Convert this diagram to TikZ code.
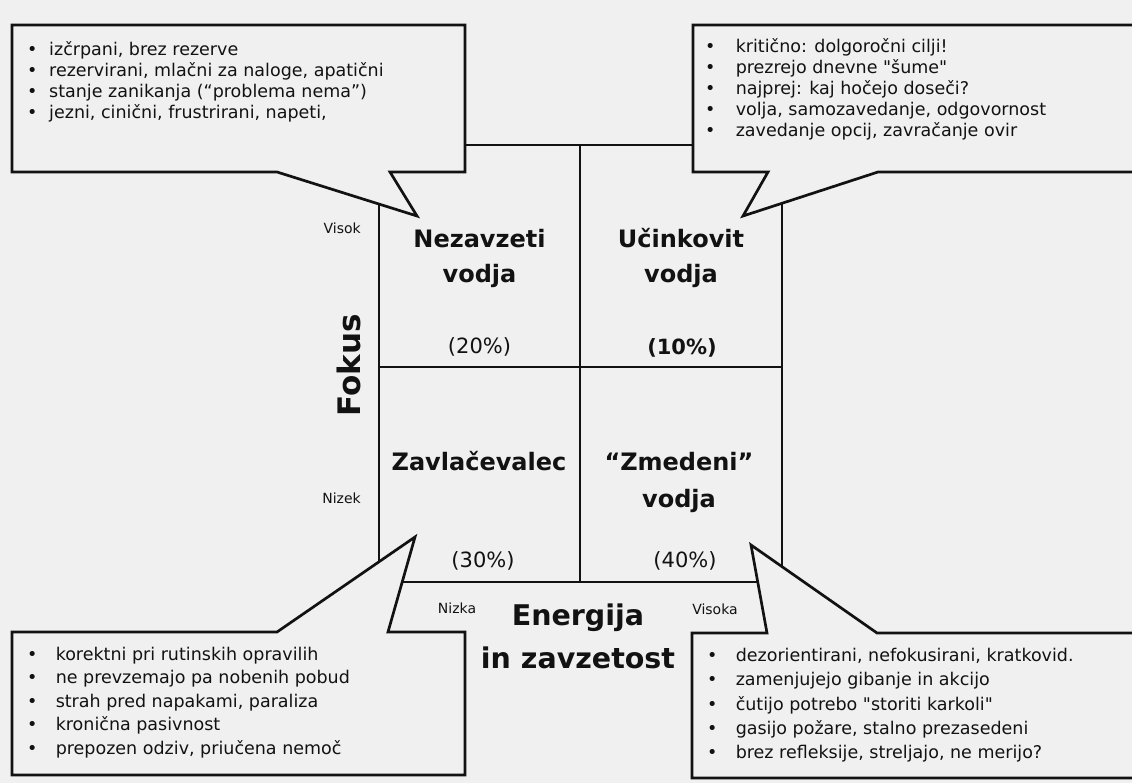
\documentclass[tikz,border=0pt]{standalone}
\usepackage{fontspec}
\setmainfont{DejaVu Sans}[Ligatures=TeXOff]
\definecolor{bgc}{RGB}{240,240,240}
\definecolor{ink}{RGB}{18,18,18}
\newcommand{\bul}[1][22pt]{\makebox[#1][l]{•}}
\tikzset{
  callout/.style={draw=ink, line width=2.7pt, fill=bgc, line join=miter},
  gridline/.style={draw=ink, line width=1.8pt},
  body/.style={font=\fontsize{17.5}{21}\selectfont, inner sep=0pt, anchor=base west, text=ink},
  title/.style={font=\bfseries\fontsize{24}{24}\selectfont, inner sep=0pt, anchor=base, text=ink},
  pct/.style={font=\fontsize{21}{21}\selectfont, inner sep=0pt, anchor=base, text=ink},
  pctb/.style={font=\bfseries\fontsize{21}{21}\selectfont, inner sep=0pt, anchor=base, text=ink},
  axis/.style={font=\bfseries\fontsize{28.5}{28.5}\selectfont, inner sep=0pt, anchor=base, text=ink},
  tiny/.style={font=\fontsize{14}{14}\selectfont, inner sep=0pt, text=ink},
}
\begin{document}
\begin{tikzpicture}[x=1pt,y=-1pt]
\useasboundingbox (0,0) rectangle (1132,783);
\fill[bgc] (0,0) rectangle (1132,783);
\clip (0,0) rectangle (1132,783);

% grid
\draw[gridline] (379,145) rectangle (782,582);
\draw[gridline] (580,145) -- (580,582);
\draw[gridline] (379,367) -- (782,367);

% callouts
\draw[callout] (12,25) -- (465,25) -- (465,172) -- (390,172) -- (417,216) -- (277,172) -- (12,172) -- cycle;
\draw[callout] (693,25) -- (1145,25) -- (1145,172) -- (878,172) -- (743,216) -- (768,172) -- (693,172) -- cycle;
\draw[callout] (12,632) -- (277,632) -- (415,537) -- (388,632) -- (465,632) -- (465,775) -- (12,775) -- cycle;
\draw[callout] (692,633) -- (767,633) -- (751,545) -- (877,633) -- (1145,633) -- (1145,778) -- (692,778) -- cycle;

% top-left text
\node[body] (tl1) at (27,56) {\bul izčrpani, brez rezerve};
\node[body] (tl2) at (27,77) {\bul rezervirani, mlačni za naloge, apatični};
\node[body] (tl3) at (27,98) {\bul stanje zanikanja (“problema nema”)};
\node[body] (tl4) at (27,119) {\bul jezni, cinični, frustrirani, napeti,};

% top-right text
\node[body] (tr1) at (705,53) {\bul[25pt] kritično: dolgoročni cilji!};
\node[body] (tr2) at (705,74) {\bul[25pt] prezrejo dnevne "šume"};
\node[body] (tr3) at (705,95) {\bul[25pt] najprej: kaj hočejo doseči?};
\node[body] (tr4) at (705,116) {\bul[25pt] volja, samozavedanje, odgovornost};
\node[body] (tr5) at (705,137) {\bul[25pt] zavedanje opcij, zavračanje ovir};

% bottom-left text
\node[body] (bl1) at (27,660) {\bul[23pt] korektni pri rutinskih opravilih};
\node[body] (bl2) at (27,683.5) {\bul[23pt] ne prevzemajo pa nobenih pobud};
\node[body] (bl3) at (27,707) {\bul[23pt] strah pred napakami, paraliza};
\node[body] (bl4) at (27,730.5) {\bul[23pt] kronična pasivnost};
\node[body] (bl5) at (27,754) {\bul[23pt] prepozen odziv, priučena nemoč};

% bottom-right text
\node[body] (br1) at (707,661) {\bul[23pt] dezorientirani, nefokusirani, kratkovid.};
\node[body] (br2) at (707,685.5) {\bul[23pt] zamenjujejo gibanje in akcijo};
\node[body] (br3) at (707,710) {\bul[23pt] čutijo potrebo "storiti karkoli"};
\node[body] (br4) at (707,734) {\bul[23pt] gasijo požare, stalno prezasedeni};
\node[body] (br5) at (707,758) {\bul[23pt] brez refleksije, streljajo, ne merijo?};

% quadrant titles
\node[title] (q1a) at (479.5,248) {Nezavzeti};
\node[title] (q1b) at (479.5,283) {vodja};
\node[pct]   (q1p) at (479.5,353) {(20\%)};
\node[title] (q2a) at (681,248) {Učinkovit};
\node[title] (q2b) at (681,283) {vodja};
\node[pctb]  (q2p) at (682,355) {(10\%)};
\node[title] (q3a) at (479,470) {Zavlačevalec};
\node[pct]   (q3p) at (483,567) {(30\%)};
\node[title] (q4a) at (679,470) {“Zmedeni”};
\node[title] (q4b) at (679,507) {vodja};
\node[pct]   (q4p) at (685,567) {(40\%)};

% axes
\node[font=\bfseries\fontsize{31}{31}\selectfont, inner sep=0pt, text=ink, rotate=90] (fokus) at (348.5,365.5) {Fokus};
\node[tiny, anchor=east] (visok) at (361,228) {Visok};
\node[tiny, anchor=east] (nizek) at (361,498) {Nizek};
\node[axis] (en1) at (578,625) {Energija};
\node[axis] (en2) at (578,668) {in zavzetost};
\node[tiny] (nizka) at (457,608) {Nizka};
\node[tiny] (visoka) at (715,609) {Visoka};
\end{tikzpicture}
\end{document}
